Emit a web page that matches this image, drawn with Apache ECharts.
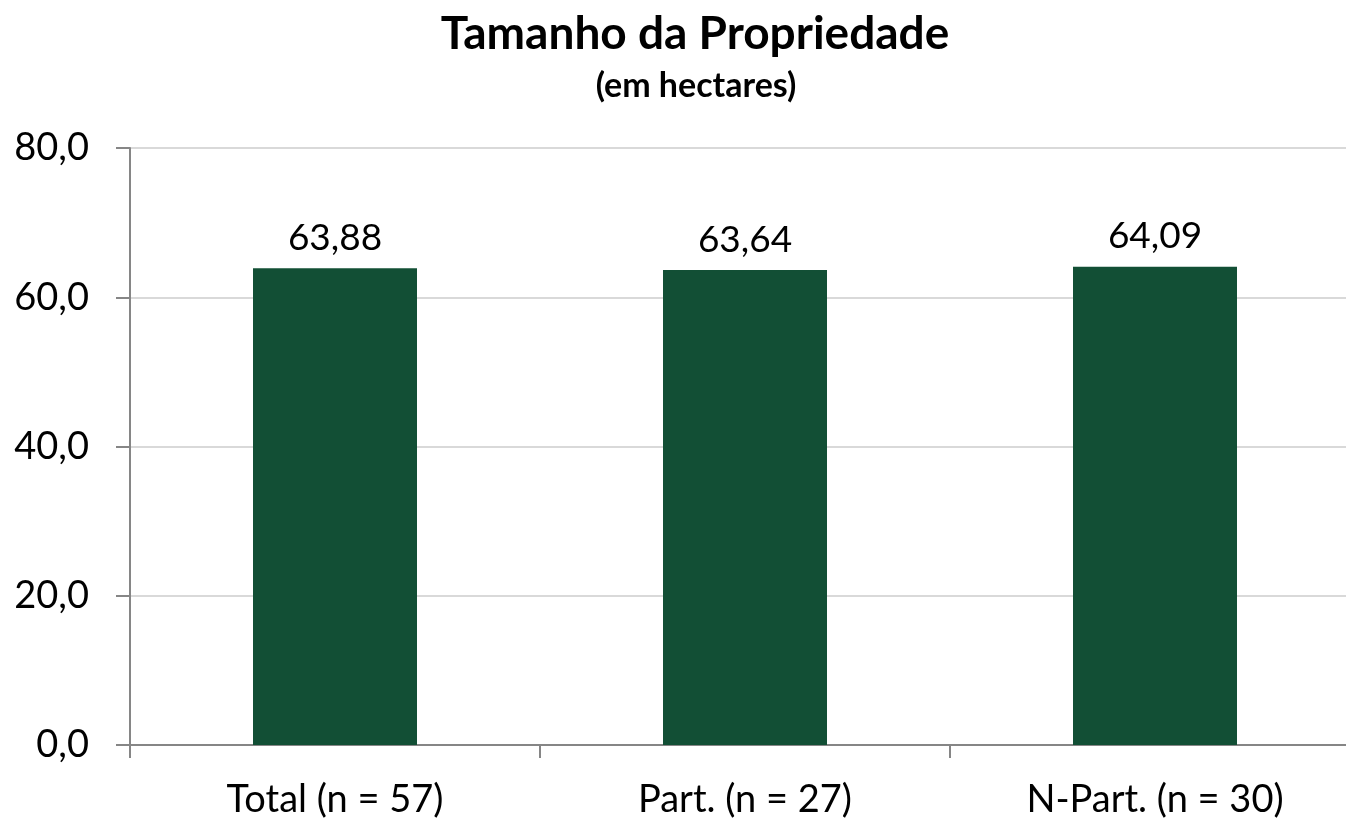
<!DOCTYPE html>
<html>
<head>
<meta charset="utf-8">
<title>Tamanho da Propriedade</title>
<script src="https://cdn.jsdelivr.net/npm/echarts@6/dist/echarts.min.js"></script>
<style>
  html, body { margin: 0; padding: 0; background: #fff; overflow: hidden; }
  /* um pouco mais largo que a janela: a última categoria é cortada na borda, como no original */
  #chart { width: 1360px; height: 822px; }
</style>
</head>
<body>
<div id="chart"></div>
<script>
// categorias e valores (hectares)
const categories = ['Total (n = 57)', 'Part. (n = 27)', 'N-Part. (n = 30)'];
const values = [63.88, 63.64, 64.09];
const yTicks = [0, 20, 40, 60, 80];

const fontFamily = 'Lato, "Open Sans", sans-serif';
const virgula = (v, d) => v.toFixed(d).replace('.', ',');

const chart = echarts.init(document.getElementById('chart'));

const option = {
  animation: false,
  title: [
    {
      text: 'Tamanho da Propriedade',
      left: 690,
      top: 6,
      textAlign: 'center',
      textStyle: { fontFamily, fontSize: 46, fontWeight: 'bold', color: '#000' }
    },
    {
      text: '(em hectares)',
      left: 691,
      top: 64,
      textAlign: 'center',
      textStyle: { fontFamily, fontSize: 34, fontWeight: 'bold', color: '#000' }
    }
  ],
  grid: { left: 130, right: 0, top: 148, bottom: 77 },
  xAxis: {
    type: 'category',
    data: categories,
    axisLine: { lineStyle: { color: '#868686', width: 2 } },
    axisTick: { show: true, length: 13, lineStyle: { color: '#868686', width: 2 } },
    axisLabel: { fontFamily, fontSize: 38, color: '#000', margin: 36 }
  },
  yAxis: {
    type: 'value',
    min: yTicks[0],
    max: yTicks[yTicks.length - 1],
    interval: 20,
    axisLine: { show: true, lineStyle: { color: '#868686', width: 2 } },
    axisTick: { show: true, length: 14, lineStyle: { color: '#868686', width: 2 } },
    splitLine: { lineStyle: { color: '#d9d9d9', width: 2 } },
    axisLabel: {
      fontFamily, fontSize: 38, color: '#000', margin: 41,
      formatter: v => virgula(v, 1)
    }
  },
  series: [
    {
      type: 'bar',
      data: values,
      barWidth: '40%',
      itemStyle: { color: '#124f35' },
      label: {
        show: true,
        position: 'top',
        distance: 12,
        fontFamily, fontSize: 37, color: '#000',
        formatter: p => virgula(p.value, 2)
      }
    }
  ]
};

chart.setOption(option);
</script>
</body>
</html>
